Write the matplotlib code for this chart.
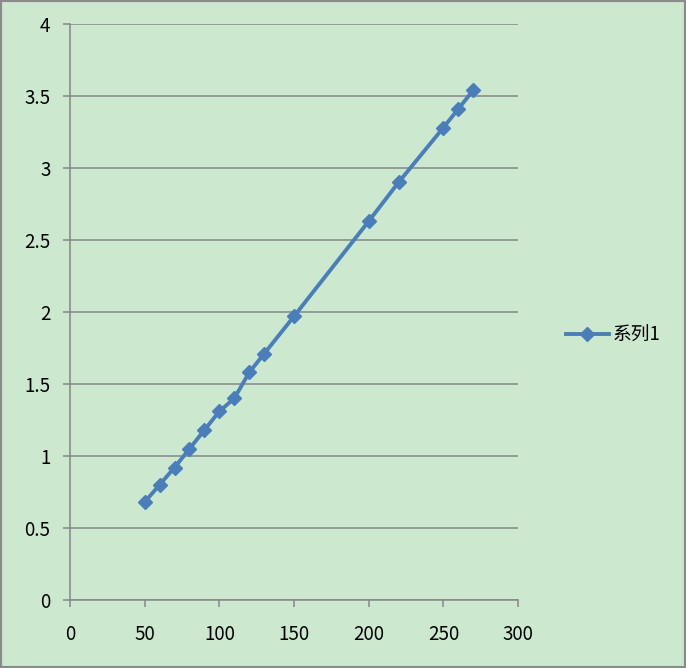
import matplotlib.pyplot as plt
from matplotlib.patches import Rectangle

plt.rcParams['font.family'] = ['Noto Sans CJK SC', 'DejaVu Sans']

# data
x_vals = [50, 60, 70, 80, 90, 100, 110, 120, 130, 150, 200, 220, 250, 260, 270]
y_vals = [0.68, 0.80, 0.92, 1.05, 1.18, 1.31, 1.40, 1.58, 1.71, 1.97, 2.63, 2.90, 3.28, 3.41, 3.54]
series_name = '系列1'

bg = '#cce8cf'
line_col = '#4a7ebb'
axis_col = '#868686'

fig = plt.figure(figsize=(6.86, 6.68), dpi=100, facecolor=bg)
ax = fig.add_axes([70/686, 68/668, 448/686, 576/668])
ax.set_facecolor(bg)

ax.plot(x_vals, y_vals, color=line_col, lw=2.8, marker='D', ms=7.5,
        markerfacecolor=line_col, markeredgecolor=line_col, label=series_name)

ax.set_xlim(0, 300)
ax.set_ylim(0, 4)
ax.set_xticks(range(0, 301, 50))
ax.set_yticks([0, 0.5, 1, 1.5, 2, 2.5, 3, 3.5, 4])
ax.set_yticklabels(['0', '0.5', '1', '1.5', '2', '2.5', '3', '3.5', '4'])
ax.yaxis.grid(True, color=axis_col, lw=1.1)
ax.set_axisbelow(True)

for s in ['top', 'right']:
    ax.spines[s].set_visible(False)
for s in ['left', 'bottom']:
    ax.spines[s].set_color(axis_col)
    ax.spines[s].set_linewidth(1.1)
ax.tick_params(colors=axis_col, labelcolor='black', labelsize=13.5, length=5, width=1.1)
ax.tick_params(axis='x', pad=12)
ax.tick_params(axis='y', pad=9)

leg = fig.legend(loc='center left', bbox_to_anchor=(549/686, 1 - 335/668),
                 frameon=False, fontsize=13.5, handlelength=2.3, handletextpad=0.2)

# outer border
fig.patches.append(Rectangle((0, 0), 1, 1, transform=fig.transFigure,
                             fill=False, edgecolor='#8a8a8a', lw=3))

fig.savefig('out.png', dpi=100, facecolor=bg)
